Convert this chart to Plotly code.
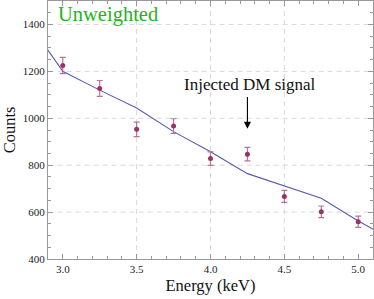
import plotly.graph_objects as go

# Data
energy = [3.0, 3.25, 3.5, 3.75, 4.0, 4.25, 4.5, 4.75, 5.0]
counts = [1225, 1127, 953, 967, 828, 847, 667, 601, 559]
errors = [35, 34, 31, 31, 29, 29, 26, 25, 24]

model_x = [2.75, 3.0, 3.25, 3.5, 3.75, 4.0, 4.25, 4.5, 4.75, 5.0, 5.25]
model_y = [1425, 1200, 1120, 1044, 943, 857, 764, 710, 659, 562, 475]

xticks = [3.0, 3.5, 4.0, 4.5, 5.0]
xtick_text = ["3.0", "3.5", "4.0", "4.5", "5.0"]
yticks = [400, 600, 800, 1000, 1200, 1400]
ytick_text = ["400", "600", "800", "1000", "1200", "1400"]
xgrid = [3.5, 4.0, 4.5]
ygrid = [600, 800, 1000, 1200, 1400]

font = "Liberation Serif, Times New Roman, Times, serif"
frame = "#999999"
gridc = "#d8d8d8"

fig = go.Figure()
fig.add_trace(go.Scatter(x=model_x, y=model_y, mode="lines",
                         line=dict(color="#5a5aaa", width=1.1),
                         hoverinfo="skip", showlegend=False))
fig.add_trace(go.Scatter(x=energy, y=counts, mode="markers",
                         marker=dict(color="#993366", size=5, symbol="circle"),
                         error_y=dict(type="data", array=errors, visible=True,
                                      color="#b8739a", thickness=1.2, width=3),
                         showlegend=False))

shapes = []
for gx in xgrid:
    shapes.append(dict(type="line", xref="x", yref="paper", x0=gx, x1=gx, y0=0, y1=1,
                       line=dict(color=gridc, width=1, dash="5px,4px"), layer="below"))
for gy in ygrid:
    shapes.append(dict(type="line", xref="x", yref="y", x0=2.965, x1=5.1, y0=gy, y1=gy,
                       line=dict(color=gridc, width=1, dash="5px,4px"), layer="below"))

axis_common = dict(showline=True, linecolor=frame, linewidth=1, mirror="allticks",
                   ticks="inside", ticklen=5, tickcolor=frame, tickwidth=1,
                   showgrid=False, zeroline=False,
                   tickfont=dict(family=font, size=11, color="#222222"))

fig.update_layout(
    width=374, height=299,
    margin=dict(l=48, r=1, t=1, b=40),
    paper_bgcolor="white", plot_bgcolor="white",
    font=dict(family=font),
    shapes=shapes,
    xaxis=dict(range=[2.9, 5.1], tickvals=xticks, ticktext=xtick_text,
               minor=dict(dtick=0.1, tick0=0, ticks="inside", ticklen=3, tickcolor=frame),
               title=dict(text="Energy (keV)", font=dict(family=font, size=16.5, color="#111111"),
                          standoff=5),
               **axis_common),
    yaxis=dict(range=[400, 1500], tickvals=yticks, ticktext=ytick_text,
               minor=dict(dtick=50, tick0=0, ticks="inside", ticklen=3, tickcolor=frame),
               title=dict(text="Counts", font=dict(family=font, size=16.5, color="#111111"),
                          standoff=4),
               **axis_common),
    annotations=[
        dict(x=4.25, y=955, xref="x", yref="y", ax=4.25, ay=1097, axref="x", ayref="y",
             text="", showarrow=True, arrowhead=2, arrowsize=1.3, arrowwidth=1.1,
             arrowcolor="#000000"),
        dict(x=4.27, y=1146, xref="x", yref="y", text="Injected DM signal", showarrow=False,
             font=dict(family=font, size=17, color="#111111")),
        dict(x=2.955, y=1.0, xref="x", yref="paper", text="Unweighted", showarrow=False,
             xanchor="left", yanchor="top",
             font=dict(family=font, size=20.5, color="#22b422")),
    ],
)

fig.write_html("out.html", config={"displayModeBar": False},
               post_script="document.body.style.margin='0';")
